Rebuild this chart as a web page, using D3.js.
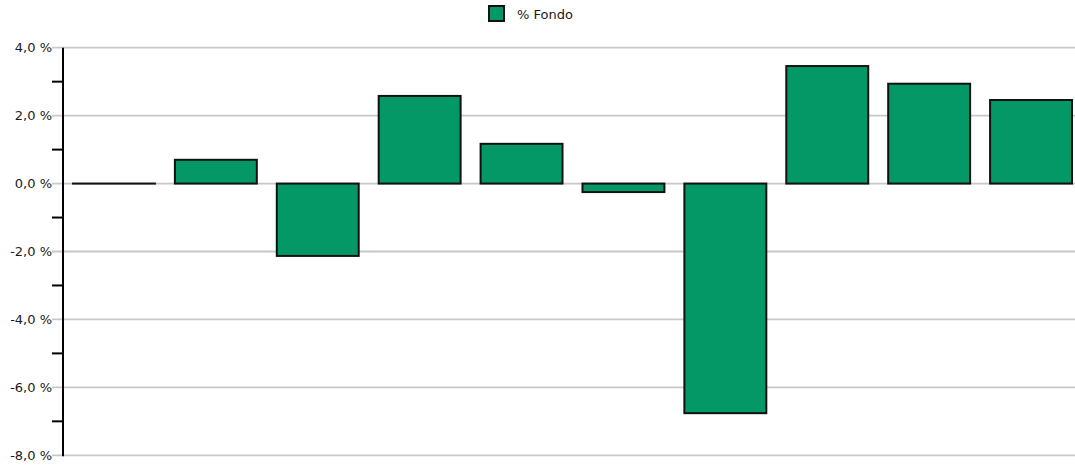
<!DOCTYPE html>
<html><head><meta charset="utf-8">
<script src="https://cdn.jsdelivr.net/npm/d3@7"></script>
<style>body{margin:0;background:#fff}svg{display:block}text{font-family:"DejaVu Sans",sans-serif;font-size:13px;fill:#1a1a1a}</style>
</head><body>
<script>
const categories = ["c1","c2","c3","c4","c5","c6","c7","c8","c9","c10"];
const values = [0, 0.7, -2.13, 2.58, 1.17, -0.25, -6.76, 3.46, 2.94, 2.46];
const seriesName = "% Fondo";
const majorTicks = [-8, -6, -4, -2, 0, 2, 4];
const minorTicks = [-7, -5, -3, -1, 1, 3];

const W = 1075, H = 467;
const svg = d3.select("body").append("svg").attr("width", W).attr("height", H);
const y = d3.scaleLinear().domain([-8, 4]).range([455.3, 47.7]);
const x = d3.scaleBand().domain(categories).range([63, 1082]).paddingInner(0.196).paddingOuter(0.098);
const fmt = v => d3.format(".1f")(v).replace(".", ",").replace("−", "-") + " %";

// gridlines
svg.append("g").selectAll("line").data(majorTicks).join("line")
  .attr("x1", 52).attr("x2", W).attr("y1", d => y(d)).attr("y2", d => y(d))
  .attr("stroke", "#c8c8c8").attr("stroke-width", 1.8);

// bars
const green = "#039865";
const g = svg.append("g");
g.selectAll("rect").data(values).join("rect")
  .attr("x", (d, i) => x(categories[i]))
  .attr("width", x.bandwidth())
  .attr("y", d => y(Math.max(0, d)))
  .attr("height", d => Math.max(0.01, Math.abs(y(d) - y(0))))
  .attr("fill", green).attr("stroke", "#111").attr("stroke-width", 2);

// axis
const axis = d3.axisLeft(y).tickValues(majorTicks).tickFormat(fmt).tickSize(0).tickPadding(2);
const ag = svg.append("g").attr("transform", "translate(63,0)").call(axis);
ag.select(".domain").remove();
ag.selectAll("text").attr("font-family", "DejaVu Sans").attr("font-size", 13).attr("fill", "#1a1a1a").attr("x", -11);
svg.append("g").selectAll("line").data(minorTicks).join("line")
  .attr("x1", 52).attr("x2", 63).attr("y1", d => y(d)).attr("y2", d => y(d))
  .attr("stroke", "#000").attr("stroke-width", 2);
svg.append("line").attr("x1", 63).attr("x2", 63).attr("y1", y(4)).attr("y2", y(-8) + 1)
  .attr("stroke", "#000").attr("stroke-width", 2);

// legend
const lg = svg.append("g");
lg.append("rect").attr("x", 489).attr("y", 6).attr("width", 15).attr("height", 15)
  .attr("fill", green).attr("stroke", "#111").attr("stroke-width", 2);
lg.append("text").attr("x", 517).attr("y", 19).text(seriesName);
</script>
</body></html>
